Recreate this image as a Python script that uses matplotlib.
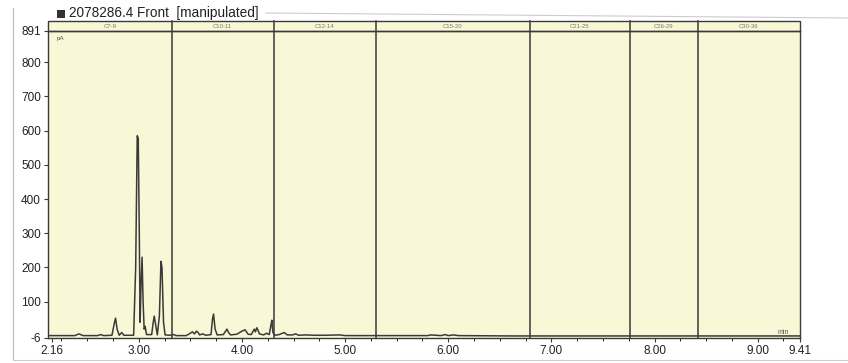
#!/usr/bin/env python3

import numpy as np
import matplotlib
matplotlib.use('Agg')
import matplotlib.pyplot as plt
from matplotlib.patches import Rectangle
from matplotlib.lines import Line2D
from matplotlib.ticker import MultipleLocator

plt.rcParams['font.family'] = ['Liberation Sans', 'DejaVu Sans']
plt.rcParams['axes.unicode_minus'] = False

title = '2078286.4 Front  [manipulated]'

# retention time (min) and detector signal (pA)
trace_t = [2.12, 2.38, 2.42, 2.46, 2.60, 2.63, 2.66, 2.74, 2.765, 2.775,
           2.79, 2.81, 2.835, 2.855, 2.95, 2.97, 2.985, 2.995, 3.005, 3.013,
           3.022, 3.032, 3.042, 3.052, 3.062, 3.075, 3.125, 3.14, 3.15, 3.165,
           3.18, 3.20, 3.215, 3.225, 3.24, 3.255, 3.30, 3.34, 3.36, 3.46,
           3.50, 3.52, 3.54, 3.56, 3.575, 3.59, 3.62, 3.65, 3.70, 3.715,
           3.725, 3.74, 3.76, 3.82, 3.855, 3.87, 3.89, 3.95, 4.00, 4.03,
           4.06, 4.09, 4.12, 4.13, 4.145, 4.17, 4.21, 4.24, 4.265, 4.28,
           4.29, 4.30, 4.32, 4.36, 4.41, 4.44, 4.49, 4.52, 4.55, 4.62,
           4.70, 4.80, 4.95, 5.00, 5.50, 5.80, 5.83, 5.93, 5.97, 6.00,
           6.05, 6.10, 6.60, 7.50, 8.50, 9.41]
trace_pa = [1, 1, 6, 1, 1, 4, 1, 2, 40, 52,
            20, 2, 10, 2, 2, 200, 585, 578, 300, 40,
            150, 230, 100, 20, 28, 4, 4, 40, 58, 30,
            3, 60, 218, 200, 40, 3, 2, 4, 1, 1,
            8, 12, 6, 14, 10, 3, 6, 2, 4, 50,
            64, 20, 3, 4, 20, 10, 3, 5, 14, 18,
            5, 4, 20, 12, 24, 6, 3, 8, 4, 30,
            46, 10, 2, 4, 10, 3, 3, 6, 2, 3,
            2, 2, 3, 1, 1, 1, 3, 1, 4, 1,
            3, 1, 0, 0, 0, 0]

# carbon range windows
window_edges = [2.12, 3.32, 4.31, 5.30, 6.79, 7.76, 8.42, 9.41]
window_labels = ['C7-9', 'C10-11', 'C12-14', 'C15-20', 'C21-25', 'C26-29', 'C30-36']

x_ticks = [2.16, 3.00, 4.00, 5.00, 6.00, 7.00, 8.00, 9.00, 9.41]
x_tick_labels = ['2.16', '3.00', '4.00', '5.00', '6.00', '7.00', '8.00', '9.00', '9.41']
y_ticks = [-6, 100, 200, 300, 400, 500, 600, 700, 800, 891]

W, H = 848, 363
fill = '#f8f8d6'
ink = '#3a3a3a'

fig = plt.figure(figsize=(W / 100, H / 100), dpi=100)
ax = fig.add_axes([48 / W, 1 - 338 / H, 752 / W, 307 / H])
ax.set_facecolor(fill)

ax.plot(trace_t, trace_pa, color=ink, lw=1.1)
ax.set_xlim(2.12, 9.41)
ax.set_ylim(-6, 891)

ax.set_xticks(x_ticks)
ax.set_xticklabels(x_tick_labels)
ax.xaxis.set_minor_locator(MultipleLocator(0.25))
ax.set_yticks(y_ticks)
ax.tick_params(axis='both', labelsize=8.5, direction='out', color=ink,
               length=3, width=0.8, pad=2, labelcolor='#222222')
ax.tick_params(axis='x', which='minor', length=2, width=0.6)
for s in ax.spines.values():
    s.set_color(ink)
    s.set_linewidth(1.0)

# header band with window names
band = 10 / 307
ax.add_patch(Rectangle((0, 1), 1, band, transform=ax.transAxes,
                       facecolor=fill, edgecolor=ink, lw=1.0, clip_on=False))
trans = ax.get_xaxis_transform()
for i, lab in enumerate(window_labels):
    lo, hi = window_edges[i], window_edges[i + 1]
    if i > 0:
        ax.add_line(Line2D([lo, lo], [0, 1 + band], transform=trans,
                           color=ink, lw=1.1, clip_on=False))
    ax.text((lo + hi) / 2, 1 + band / 2, lab, transform=trans,
            ha='center', va='center', fontsize=4.3, color='#777777')

ax.text(0.011, 0.985, 'pA', transform=ax.transAxes, fontsize=4.5,
        color='#555555', va='top', ha='left')
ax.text(0.985, 0.008, 'min', transform=ax.transAxes, fontsize=5,
        color='#555555', va='bottom', ha='right')

# title with black square marker
fig.patches.append(Rectangle((57 / W, 1 - 18 / H), 8 / W, 8 / H,
                             transform=fig.transFigure, facecolor='#333333',
                             edgecolor='none'))
fig.text(69 / W, 1 - 13 / H, title, fontsize=9.8, color='#222222',
         va='center', ha='left')

# faint outer frame from the printout
fig.lines.append(Line2D([13 / W, 13 / W], [1 - 8 / H, 1 - 360 / H],
                        transform=fig.transFigure, color='#bbbbbb', lw=0.8))
fig.lines.append(Line2D([266 / W, 1.0], [1 - 13 / H, 1 - 18 / H],
                        transform=fig.transFigure, color='#cccccc', lw=0.8))
fig.lines.append(Line2D([13 / W, 1.0], [1 - 360 / H, 1 - 360 / H],
                        transform=fig.transFigure, color='#cccccc', lw=0.8))

fig.savefig('out.png', dpi=100)
